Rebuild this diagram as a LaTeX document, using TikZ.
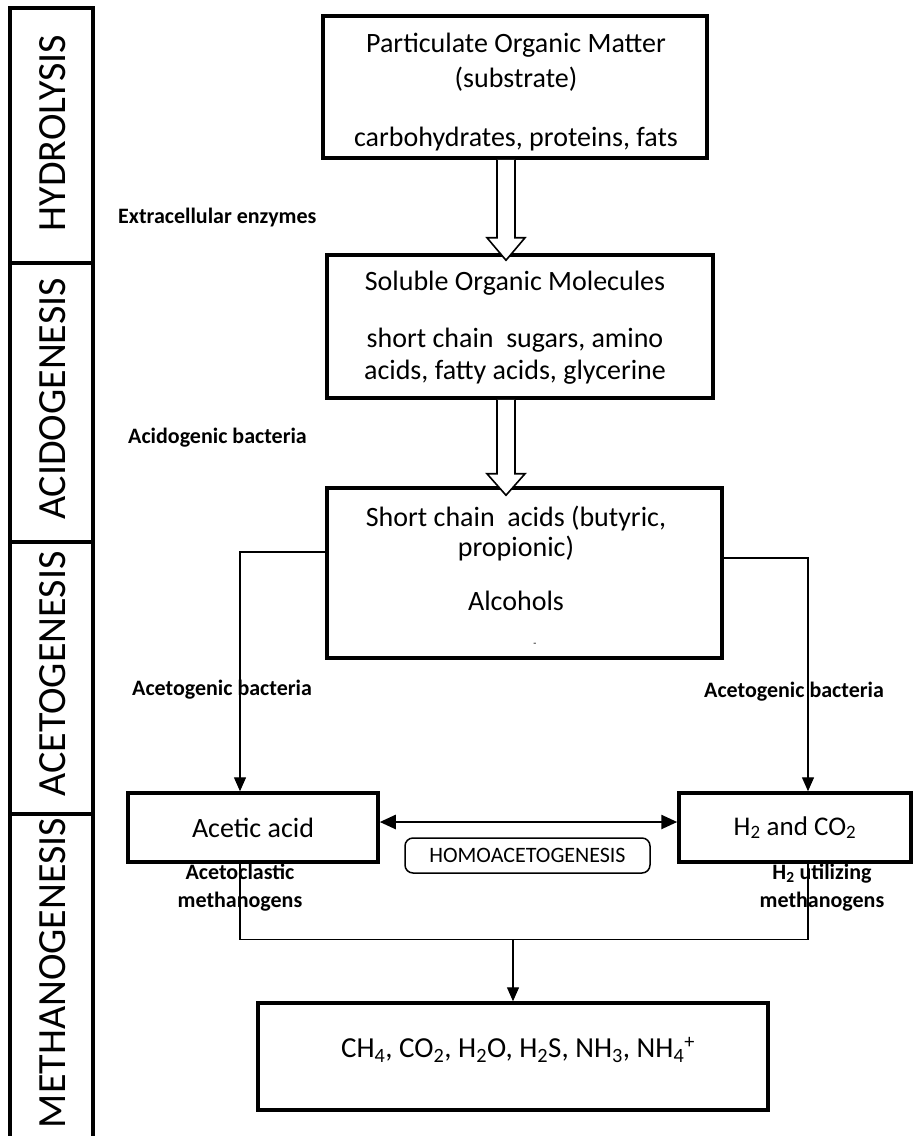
\documentclass[tikz,border=0pt]{standalone}
\usepackage{fontspec}
\setmainfont{Carlito}
\usetikzlibrary{arrows.meta,calc}
\newcommand\myfs[2]{\fontsize{#1}{#2}\selectfont}
\begin{document}
\begin{tikzpicture}[x=1pt,y=-1pt,
  box/.style={draw, line width=3.5pt, inner sep=0pt},
  txt/.style={align=center, inner sep=0pt},
  lbl/.style={inner sep=0pt, font=\bfseries\myfs{22}{28}, align=center},
  stage/.style={rotate=90, inner sep=0pt, font=\myfs{40}{42}},
  conn/.style={line width=1.4pt},
  arr/.style={conn, -{Triangle[length=14pt,width=12pt]}},
  hollow/.style={line width=1.6pt, fill=white, line join=miter}]
\useasboundingbox (0,0) rectangle (914,1136);

% stage column
\draw[line width=3.5pt] (10,1140) -- (10,8) -- (93,8) -- (93,1140);
\draw[line width=3.5pt] (10,263) -- (93,263) (10,542) -- (93,542) (10,814) -- (93,814);
\node[stage] (hyd) at (53,133) {HYDROLYSIS};
\node[stage] (acd) at (53,399) {ACIDOGENESIS};
\node[stage] (act) at (53,674) {ACETOGENESIS};
\node[stage] (met) at (53,973) {METHANOGENESIS};

% boxes
\node[box, minimum width=384pt, minimum height=142pt] (pom) at (515,87) {};
\node[box, minimum width=386pt, minimum height=143pt] (sol) at (520,326.5) {};
\node[box, minimum width=395pt, minimum height=170pt] (sca) at (524.5,573) {};
\node[box, minimum width=250pt, minimum height=69pt, font=\myfs{28}{30}] (acetic) at (253,827.5) {Acetic acid};
\node[box, minimum width=232pt, minimum height=69pt, font=\myfs{27}{30}] (h2) at (795,827.5) {H\textsubscript{2} and CO\textsubscript{2}};
\node[draw, line width=1.5pt, rounded corners=8pt, minimum width=245pt, minimum height=35pt, inner sep=0pt, font=\myfs{22}{24}] (homo) at (527.5,855.5) {HOMOACETOGENESIS};
\node[box, minimum width=510pt, minimum height=107pt] (fin) at (513,1056.5) {};

% box texts
\node[txt, font=\myfs{28}{35}] (pomt) at (516,92) {Particulate Organic Matter\\(substrate)\\[24pt]carbohydrates, proteins, fats};
\node[txt, font=\myfs{28}{32}] (solt) at (515,328) {Soluble Organic Molecules\\[25pt]short chain~ sugars, amino\\acids, fatty acids, glycerine};
\node[txt, font=\myfs{28}{30}] (scat) at (516,558) {Short chain~ acids (butyric,\\propionic)\\[24pt]Alcohols};
\node[font=\myfs{10}{10}, inner sep=0pt] (dash) at (535,645) {-};
\node[txt, font=\myfs{29}{30}] (fint) at (518,1050) {CH\textsubscript{4}, CO\textsubscript{2}, H\textsubscript{2}O, H\textsubscript{2}S, NH\textsubscript{3}, NH\textsubscript{4}\textsuperscript{+}};

% side labels
\node[lbl, anchor=west] (ext) at (118,218) {Extracellular enzymes};
\node[lbl, anchor=west] (acb) at (128,438) {Acidogenic bacteria};
\node[lbl, anchor=west] (agl) at (132,690) {Acetogenic bacteria};
\node[lbl, anchor=west] (agr) at (704,692) {Acetogenic bacteria};
\node[lbl] (acm) at (240,888) {Acetoclastic\\methanogens};
\node[lbl] (h2m) at (822,888) {H\textsubscript{2} utilizing\\methanogens};

% hollow arrows
\coordinate (ax) at (506,0);
\draw[hollow] ($(ax|-pom.south)+(-9,0)$) -- ++(0,78) -- ++(-10,0) -- ($(ax|-sol.north)+(0,7)$) -- ($(ax|-pom.south)+(19,78)$) -- ++(-10,0) -- ++(0,-78);
\draw[hollow] ($(ax|-sol.south)+(-9,0)$) -- ++(0,74) -- ++(-10,0) -- ($(ax|-sca.north)+(0,9)$) -- ($(ax|-sol.south)+(19,74)$) -- ++(-10,0) -- ++(0,-74);

% connectors
\draw[arr] ([yshift=21pt]sca.west) -| ([xshift=-13pt]acetic.north);
\draw[arr] ([yshift=15pt]sca.east) -| ([xshift=13pt]h2.north);
\draw[line width=2.5pt, {Triangle[length=16pt,width=14pt]}-{Triangle[length=16pt,width=14pt]}] ([yshift=5.5pt]acetic.east) -- ([yshift=5.5pt]h2.west);
\draw[conn] ([xshift=-13pt]acetic.south) -- ++(0,76) coordinate (jl) -| ([xshift=13pt]h2.south);
\draw[arr] (fin.north |- jl) -- (fin.north);
\end{tikzpicture}
\end{document}
